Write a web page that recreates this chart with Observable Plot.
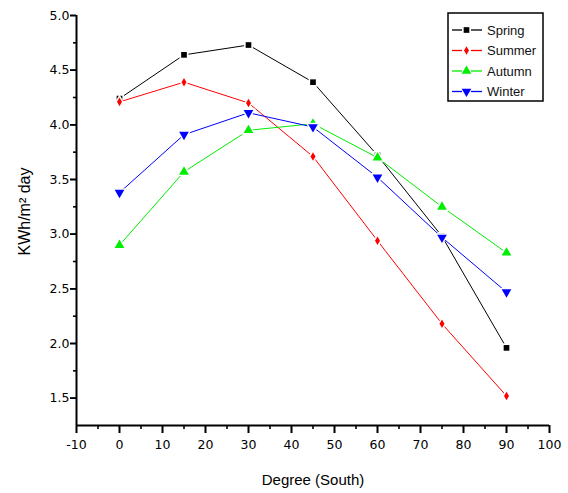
<!DOCTYPE html>
<html>
<head>
<meta charset="utf-8">
<script src="https://cdn.jsdelivr.net/npm/d3@7"></script>
<script src="https://cdn.jsdelivr.net/npm/@observablehq/plot@0.6"></script>
<style>
  html, body { margin: 0; padding: 0; background: #fff; }
  #chart { position: relative; width: 568px; height: 493px; }
  svg { font-family: "Liberation Sans", Arial, sans-serif; }
</style>
</head>
<body>
<div id="chart"></div>
<script>
const degrees = [0, 15, 30, 45, 60, 75, 90];
const seriesNames = ["Spring", "Summer", "Autumn", "Winter"];
const spring = [4.24, 4.64, 4.73, 4.39, 3.72, 2.98, 1.96];
const summer = [4.21, 4.39, 4.20, 3.71, 2.94, 2.18, 1.52];
const autumn = [2.90, 3.57, 3.95, 4.01, 3.70, 3.25, 2.83];
const winter = [3.38, 3.91, 4.11, 3.98, 3.52, 2.97, 2.47];
const xTicks = [-10, 0, 10, 20, 30, 40, 50, 60, 70, 80, 90, 100];
const xMinor = [-5, 5, 15, 25, 35, 45, 55, 65, 75, 85, 95];
const yTicks = [1.5, 2.0, 2.5, 3.0, 3.5, 4.0, 4.5, 5.0];
const yMinor = [1.75, 2.25, 2.75, 3.25, 3.75, 4.25, 4.75];
const xMin = -10, xMax = 100, yMin = 1.25, yMax = 5.0;

const styles = {
  Spring: {color: "#000000", symbol: "square", r: 3.2, rotate: 0},
  Summer: {color: "#ff0000", symbol: "diamond", r: 2.6, rotate: 0},
  Autumn: {color: "#00ee00", symbol: "triangle", r: 3.6, rotate: 0},
  Winter: {color: "#0000ff", symbol: "triangle", r: 3.6, rotate: 180}
};
const values = {Spring: spring, Summer: summer, Autumn: autumn, Winter: winter};

const marks = [];
for (const name of seriesNames) {
  const s = styles[name];
  const data = degrees.map((d, i) => ({x: d, y: values[name][i]}));
  marks.push(Plot.line(data, {x: "x", y: "y", stroke: s.color, strokeWidth: 1}));
  marks.push(Plot.dot(data, {x: "x", y: "y", symbol: s.symbol, r: s.r + 1.8, fill: "white", stroke: "none", rotate: s.rotate}));
  marks.push(Plot.dot(data, {x: "x", y: "y", symbol: s.symbol, r: s.r, fill: s.color, stroke: "none", rotate: s.rotate}));
}

const chart = Plot.plot({
  width: 568,
  height: 493,
  marginLeft: 76,
  marginRight: 19,
  marginTop: 15,
  marginBottom: 68,
  style: {fontFamily: "'Liberation Sans', Arial, sans-serif", background: "white", color: "#000"},
  x: {domain: [xMin, xMax]},
  y: {domain: [yMin, yMax]},
  marks: [
    // outward tick marks (major and minor)
    Plot.ruleX(xTicks, {x: d => d, y1: yMin, y2: yMin, insetBottom: -8, stroke: "black", strokeWidth: 1.6}),
    Plot.ruleX(xMinor, {x: d => d, y1: yMin, y2: yMin, insetBottom: -4, stroke: "black", strokeWidth: 1.6}),
    Plot.ruleY(yTicks, {y: d => d, x1: xMin, x2: xMin, insetLeft: -6, stroke: "black", strokeWidth: 1.6}),
    Plot.ruleY(yMinor, {y: d => d, x1: xMin, x2: xMin, insetLeft: -3, stroke: "black", strokeWidth: 1.6}),
    Plot.axisX(xTicks, {tickSize: 8, tickPadding: 7, fontSize: 12.5, tickFormat: d => d, stroke: "black", strokeWidth: 1.6,
      label: "Degree (South)", labelAnchor: "center", labelArrow: "none", labelOffset: 59}),
    Plot.axisY(yTicks, {tickSize: 6, tickPadding: 1, fontSize: 12.5, tickFormat: d3.format(".1f"), stroke: "black", strokeWidth: 1.6,
      label: "KWh/m² day", labelAnchor: "center", labelArrow: "none", labelOffset: 58}),
    Plot.ruleX([xMin], {stroke: "black", strokeWidth: 2}),
    Plot.ruleY([yMin], {stroke: "black", strokeWidth: 2}),
    ...marks
  ]
});

const root = d3.select(chart);
// tick labels: wider face to match the reference's glyph widths
root.selectAll("g[aria-label*='tick label'] text")
  .style("font-family", "'DejaVu Sans', sans-serif")
  .style("font-size", "12.5px");
// axis titles
root.selectAll("g[aria-label='x-axis label'] text").style("font-size", "15px");
root.selectAll("g[aria-label='y-axis label'] text").style("font-size", "16px")
  .each(function() {
    const t = d3.select(this);
    t.attr("transform", "translate(0,-9) " + (t.attr("transform") || ""));
  });

// legend
const lg = root.append("g").attr("transform", "translate(448,13)").attr("text-anchor", "start");
lg.append("rect").attr("width", 95).attr("height", 88).attr("fill", "white").attr("stroke", "black").attr("stroke-width", 1.5);
seriesNames.forEach((name, i) => {
  const s = styles[name];
  const y = 17 + i * 20.5;
  const g = lg.append("g").attr("transform", `translate(0,${y})`);
  g.append("line").attr("x1", 4).attr("x2", 14).attr("y1", 0).attr("y2", 0).attr("stroke", s.color).attr("stroke-width", 1.3);
  g.append("line").attr("x1", 23).attr("x2", 34).attr("y1", 0).attr("y2", 0).attr("stroke", s.color).attr("stroke-width", 1.3);
  const sym = {square: d3.symbolSquare, diamond: d3.symbolDiamond, triangle: d3.symbolTriangle}[s.symbol];
  g.append("path").attr("d", d3.symbol(sym, Math.PI * s.r * s.r)())
    .attr("transform", `translate(18.5,0) rotate(${s.rotate})`).attr("fill", s.color);
  g.append("text").attr("x", 39).attr("y", 0).attr("dy", "0.35em").attr("font-size", 13)
    .attr("text-anchor", "start").attr("fill", "#111").text(name);
});

document.getElementById("chart").appendChild(chart);
</script>
</body>
</html>
